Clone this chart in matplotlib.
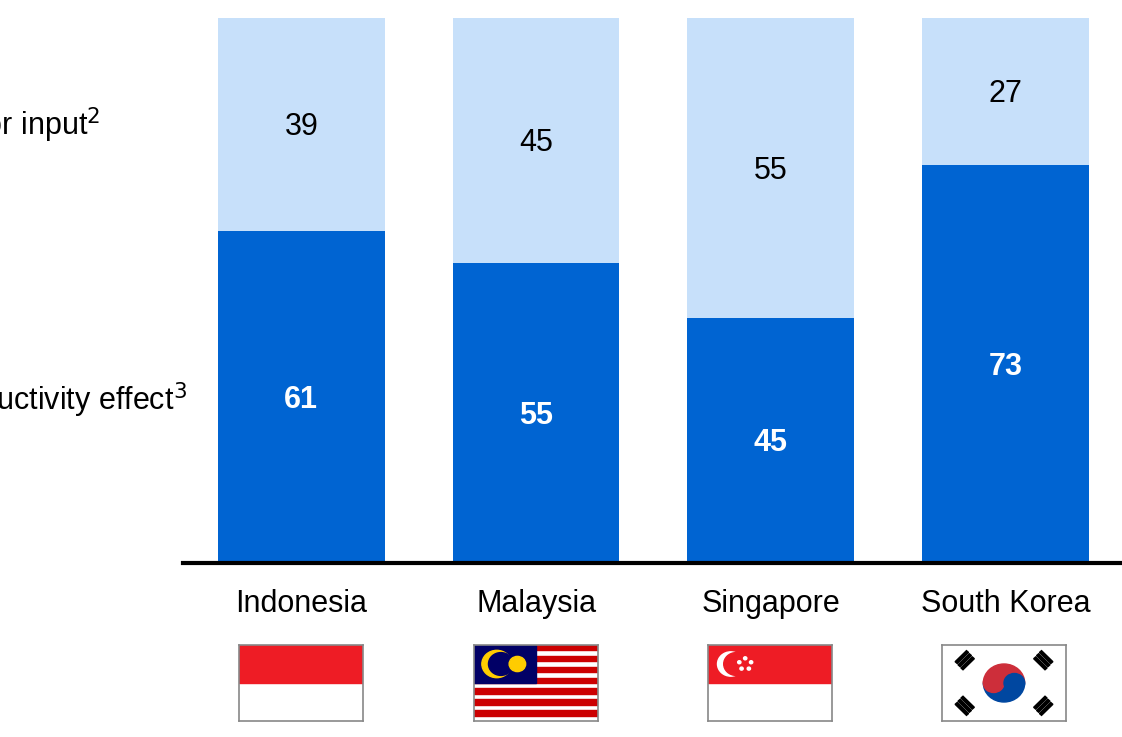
import numpy as np
import matplotlib.pyplot as plt
from matplotlib.patches import Rectangle, Circle, Wedge

plt.rcParams['font.family'] = ['Liberation Sans', 'DejaVu Sans']

countries = ['Indonesia', 'Malaysia', 'Singapore', 'South Korea']
productivity = [61, 55, 45, 73]
labor = [39, 45, 55, 27]

W, H = 1122, 737
fig = plt.figure(figsize=(W / 100, H / 100), dpi=100)

def px_axes(x0, y0, x1, y1):
    # pixel box (top-left origin) -> figure axes
    return fig.add_axes([x0 / W, 1 - y1 / H, (x1 - x0) / W, (y1 - y0) / H])

ax = px_axes(183, 18, 1122, 563)
x = np.arange(len(countries))
dark, light = '#0064d2', '#c7e0fa'
ax.bar(x, productivity, width=0.71, color=dark)
ax.bar(x, labor, width=0.71, bottom=productivity, color=light)
for i in x:
    ax.text(i, productivity[i] / 2 - 0.5, str(productivity[i]), ha='center', va='center',
            color='white', fontsize=22, fontweight='bold')
    ax.text(i, productivity[i] + labor[i] / 2 - 0.5, str(labor[i]), ha='center', va='center',
            color='black', fontsize=22)
    ax.text(i, -7.5, countries[i], ha='center', va='center', fontsize=22, clip_on=False)
ax.set_xlim(-0.504, 3.496)
ax.set_ylim(0, 100)
ax.axis('off')
ax.axhline(0, color='black', lw=3, clip_on=False)

fig.text(100 / W, 1 - 125 / H, r'Labor input$^2$', ha='right', va='center', fontsize=22)
fig.text(187 / W, 1 - 400 / H, r'Productivity effect$^3$', ha='right', va='center', fontsize=22)

# flags
centers = [301, 536, 770, 1004]
red = '#ee1c25'
for k, c in enumerate(centers):
    fa = px_axes(c - 62, 645, c + 62, 721)
    fa.set_xlim(0, 3)
    fa.set_ylim(0, 2)
    fa.set_xticks([])
    fa.set_yticks([])
    for s in fa.spines.values():
        s.set_color('#888888')
        s.set_linewidth(1.2)
    if k == 0:
        fa.add_patch(Rectangle((0, 1), 3, 1, color=red))
    elif k == 1:
        for j in range(14):
            if j % 2 == 0:
                fa.add_patch(Rectangle((0, 2 - (j + 1) * 2 / 14), 3, 2 / 14, color='#cc0001'))
        fa.add_patch(Rectangle((0, 1), 1.5, 1, color='#010066'))
        fa.add_patch(Circle((0.55, 1.5), 0.36, color='#ffcc00'))
        fa.add_patch(Circle((0.65, 1.5), 0.3, color='#010066'))
        fa.add_patch(Circle((1.05, 1.5), 0.2, color='#ffcc00'))
    elif k == 2:
        fa.add_patch(Rectangle((0, 1), 3, 1, color=red))
        fa.add_patch(Circle((0.55, 1.5), 0.32, color='white'))
        fa.add_patch(Circle((0.68, 1.5), 0.3, color=red))
        for a in range(5):
            t = np.pi / 2 + a * 2 * np.pi / 5
            fa.add_patch(Circle((0.9 + 0.15 * np.cos(t), 1.5 + 0.15 * np.sin(t)), 0.04, color='white'))
    else:
        fa.add_patch(Wedge((1.5, 1), 0.5, 0, 180, color='#cd2e3a'))
        fa.add_patch(Wedge((1.5, 1), 0.5, 180, 360, color='#0047a0'))
        fa.add_patch(Circle((1.25, 1), 0.25, color='#cd2e3a'))
        fa.add_patch(Circle((1.75, 1), 0.25, color='#0047a0'))
        for (tx, ty) in [(0.55, 1.6), (2.45, 1.6), (0.55, 0.4), (2.45, 0.4)]:
            ang = np.degrees(np.arctan2(ty - 1, (tx - 1.5) * 0.67)) + 90
            for d in (-0.12, 0, 0.12):
                v = np.array([np.cos(np.radians(ang - 90)), np.sin(np.radians(ang - 90))])
                cx, cy = tx + d * v[0] * 0.8, ty + d * v[1]
                fa.add_patch(Rectangle((cx - 0.2, cy - 0.035), 0.4, 0.07,
                                       angle=ang, rotation_point='center', color='black'))

fig.savefig('out.png', dpi=100)
